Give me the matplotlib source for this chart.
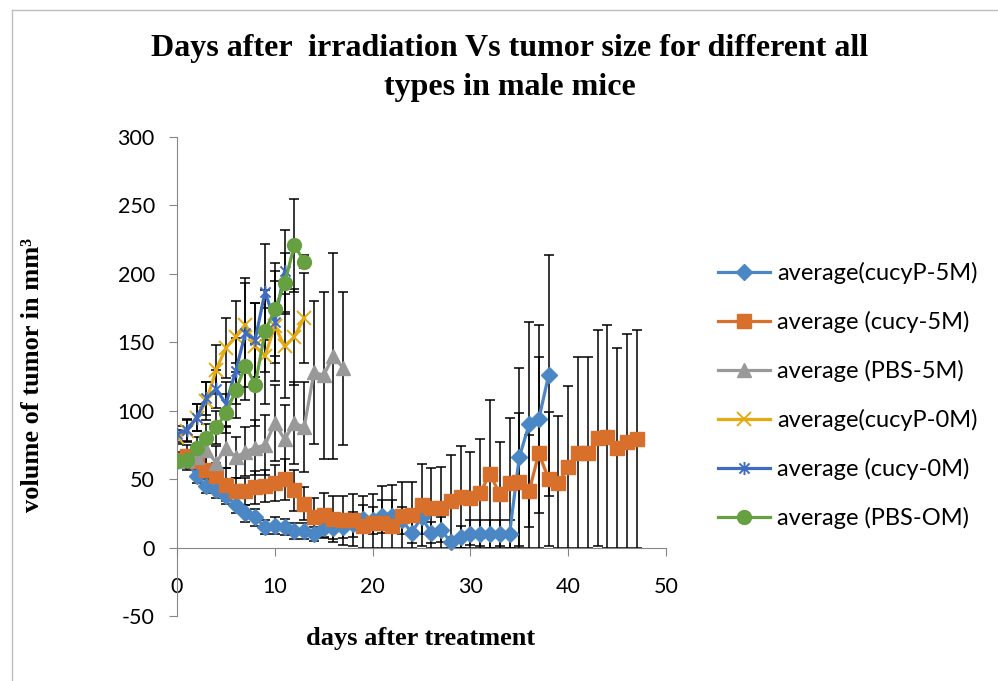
import matplotlib.pyplot as plt
import numpy as np
from matplotlib.path import Path
from matplotlib.lines import Line2D

plt.rcParams['axes.unicode_minus'] = False

# average tumor volume (mm3) per day after treatment
cucyP_5M = [63, 64, 52, 45, 42, 38, 31, 25, 22, 15, 16, 15, 12, 12, 10, 14, 14, 15, 17, 21,
            20, 23, 23, 20, 11, 22, 11, 13, 4, 8, 10, 10, 10, 10, 10, 66, 90, 94, 126]
cucyP_5M_err = [3, 4, 5, 5, 6, 6, 6, 6, 6, 5, 6, 6, 6, 6, 5, 7, 8, 8, 9, 10,
                10, 12, 12, 10, 8, 12, 8, 9, 4, 8, 10, 10, 10, 10, 10, 65, 75, 69, 88]

cucy_5M = [64, 67, 63, 57, 52, 46, 41, 41, 44, 45, 47, 50, 42, 32, 22, 24, 21, 20, 20, 16,
           18, 18, 16, 23, 24, 31, 29, 29, 34, 37, 36, 40, 54, 39, 47, 48, 41, 69, 50, 47,
           59, 69, 69, 80, 81, 73, 77, 79]
cucy_5M_err = [6, 8, 10, 12, 10, 12, 10, 10, 12, 12, 13, 15, 15, 12, 14, 16, 17, 18, 19, 22,
               21, 27, 30, 25, 24, 30, 29, 30, 34, 37, 34, 39, 54, 38, 48, 50, 41, 70, 49, 49,
               59, 70, 70, 79, 82, 73, 79, 80]

PBS_5M = [63, 64, 66, 71, 62, 73, 66, 70, 73, 75, 91, 79, 91, 88, 128, 126, 140, 131]
PBS_5M_err = [5, 7, 9, 12, 12, 15, 15, 18, 20, 22, 28, 25, 30, 33, 52, 61, 75, 56]

cucyP_0M = [81, 85, 95, 107, 130, 146, 154, 163, 147, 140, 162, 147, 154, 168]
cucyP_0M_err = [5, 8, 10, 14, 18, 22, 26, 30, 32, 35, 40, 38, 35, 33]

cucy_0M = [83, 86, 95, 109, 116, 105, 129, 157, 152, 187, 165, 202]
cucy_0M_err = [6, 8, 10, 12, 14, 16, 24, 40, 27, 35, 30, 30]

PBS_0M = [63, 64, 73, 80, 88, 98, 115, 133, 119, 158, 174, 193, 221, 209]
PBS_0M_err = [4, 6, 8, 10, 12, 14, 20, 25, 30, 30, 34, 22, 34, 5]

labels = ['average(cucyP-5M)', 'average (cucy-5M)', 'average (PBS-5M)',
          'average(cucyP-0M)', 'average (cucy-0M)', 'average (PBS-OM)']

# excel style asterisk marker
star = Path([(-1, -1), (1, 1), (-1, 1), (1, -1), (0, -1.3), (0, 1.3)],
            [Path.MOVETO, Path.LINETO] * 3)

series = [
    (cucyP_5M, cucyP_5M_err, '#4a87c4', 'D', 8.5, 1),
    (cucy_5M, cucy_5M_err, '#d86f2a', 's', 9.5, 1),
    (PBS_5M, PBS_5M_err, '#999999', '^', 10, 1),
    (cucyP_0M, cucyP_0M_err, '#e6ab12', 'x', 10, 1.4),
    (cucy_0M, cucy_0M_err, '#3f6cbf', star, 9.5, 1.4),
    (PBS_0M, PBS_0M_err, '#67a040', 'o', 10, 1),
]

fig = plt.figure(figsize=(9.98, 6.81), dpi=100)
ax = fig.add_axes([0.1774, 0.0954, 0.4899, 0.7034])

for vals, err, c, m, ms, mew in series:
    days = np.arange(len(vals))
    # lower bars stop at zero, as in the original
    low = np.minimum(err, vals)
    ax.errorbar(days, vals, yerr=[low, err], fmt='none', ecolor='black', elinewidth=1.1,
                capsize=3.6, capthick=1.1, zorder=1)

handles = []
for i, (vals, err, c, m, ms, mew) in enumerate(series):
    days = np.arange(len(vals))
    ln, = ax.plot(days, vals, color=c, lw=2.3, marker=m, ms=ms, mfc=c, mec=c,
                  mew=mew, zorder=2 + i, label=labels[i])
    handles.append(ln)

ax.set_xlim(0, 50)
ax.set_ylim(-50, 300)
ax.set_xticks(range(0, 51, 10))
ax.set_yticks(range(-50, 301, 50))
for s in ['top', 'right']:
    ax.spines[s].set_visible(False)
ax.spines['bottom'].set_position(('data', 0))
ax.spines['bottom'].set_color('#868686')
ax.spines['left'].set_color('#868686')
ax.tick_params(axis='x', direction='out', length=6, color='#868686', pad=15,
               labelsize=15.5, labelfontfamily='Lato')
ax.tick_params(axis='y', direction='out', length=6, color='#868686', pad=10,
               labelsize=15.5, labelfontfamily='Lato')

fig.text(0.511, 0.9295, 'Days after  irradiation Vs tumor size for different all',
         ha='center', va='center', fontsize=23, fontweight='bold', family='Liberation Serif')
fig.text(0.511, 0.872, 'types in male mice',
         ha='center', va='center', fontsize=23, fontweight='bold', family='Liberation Serif')
fig.text(0.033, 1 - 375 / 681, 'volume of tumor in mm³', rotation=90,
         ha='center', va='center', fontsize=19, fontweight='bold', family='Liberation Serif')
fig.text(0.421, 1 - 638 / 681, 'days after treatment',
         ha='center', va='center', fontsize=19, fontweight='bold', family='Liberation Serif')

fig.legend(handles=handles, loc='upper left', bbox_to_anchor=(718 / 998, 1 - 262 / 681),
           frameon=False, borderpad=0, borderaxespad=0, handlelength=2.2,
           handletextpad=0.3, labelspacing=1.14, prop={'family': 'Lato', 'size': 17})

# chart area border
fig.add_artist(Line2D([12 / 998, 12 / 998], [0, 1 - 10 / 681], color='#bfbfbf', lw=1))
fig.add_artist(Line2D([12 / 998, 1], [1 - 10 / 681, 1 - 10 / 681], color='#bfbfbf', lw=1))

fig.savefig('out.png', dpi=100)
